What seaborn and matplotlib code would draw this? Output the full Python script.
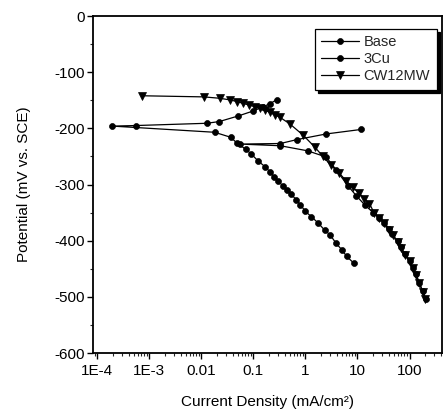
import numpy as np
import pandas as pd
import matplotlib
matplotlib.use("Agg")
import matplotlib.pyplot as plt
import seaborn as sns
from matplotlib.ticker import FixedLocator, FixedFormatter, LogLocator, MultipleLocator, NullFormatter

# Polarization data: current density (mA/cm^2) and potential (mV vs. SCE)
base_current = [0.28, 0.21, 0.15, 0.10, 0.051, 0.022, 0.0126, 5.6e-4, 1.95e-4,
                0.018, 0.037, 0.048, 0.071, 0.092, 0.123, 0.166, 0.206, 0.246,
                0.297, 0.371, 0.443, 0.537, 0.67, 0.80, 1.0, 1.29, 1.73, 2.33,
                3.0, 3.9, 5.1, 6.2, 8.5]
base_potential = [-149, -156, -162, -169, -178, -188, -191, -195, -196,
                  -207, -216, -226, -237, -246, -258, -268, -277, -286,
                  -293, -303, -310, -317, -328, -336, -348, -357, -368, -381,
                  -390, -405, -417, -428, -440]

cu3_current = [205, 178, 155, 133, 115, 100, 83, 68, 59, 47, 41, 33, 26, 20,
               14, 9.5, 6.5, 3.9, 2.5, 1.1, 0.33, 0.055, 0.33, 0.69, 2.5, 11.7]
cu3_potential = [-504, -490, -475, -460, -448, -436, -424, -412, -401, -389,
                 -380, -368, -359, -350, -337, -320, -302, -274, -251, -240,
                 -231, -228, -227, -220, -210, -202]

cw_current = [7.2e-4, 0.0112, 0.0227, 0.0363, 0.0495, 0.063, 0.083, 0.107,
              0.133, 0.166, 0.206, 0.257, 0.32, 0.5, 0.9, 1.5, 2.17, 3.1, 4.5,
              6.0, 8.1, 10.6, 13.6, 17, 21, 26.4, 32.9, 41, 47.5, 59, 68.5, 83,
              100, 115, 133, 155, 178, 200]
cw_potential = [-142, -144, -146.5, -149.5, -152.5, -155.5, -158.5, -161.5,
                -164.5, -167.5, -171.5, -176, -180, -192, -212, -233, -250,
                -266, -280, -293, -305, -315, -325, -334, -351, -360, -369,
                -381, -390, -402, -413, -425, -437, -449, -461, -476, -491,
                -503]

series_names = ["Base", "3Cu", "CW12MW"]
x_ticks = [1e-4, 1e-3, 1e-2, 1e-1, 1, 10, 100]
x_tick_labels = ["1E-4", "1E-3", "0.01", "0.1", "1", "10", "100"]
y_ticks = [0, -100, -200, -300, -400, -500, -600]

sns.set_theme(style="ticks")
plt.rcParams["font.family"] = ["Liberation Sans", "DejaVu Sans"]
plt.rcParams["axes.unicode_minus"] = False

fig = plt.figure(figsize=(4.46, 4.19), dpi=100)
ax = fig.add_axes([0.2085, 0.1575, 0.7825, 0.8043])

curves = [
    (series_names[0], base_current, base_potential, "o", 4.3),
    (series_names[1], cu3_current, cu3_potential, "o", 4.3),
    (series_names[2], cw_current, cw_potential, "v", 5.2),
]
for name, cur, pot, mk, ms in curves:
    df = pd.DataFrame({"current": cur, "potential": pot})
    sns.lineplot(data=df, x="current", y="potential", ax=ax, sort=False,
                 estimator=None, color="black", linewidth=0.9, marker=mk,
                 markersize=ms, markeredgecolor="black", markerfacecolor="black",
                 markeredgewidth=0.5, label=name)

ax.set_xscale("log")
ax.set_xlim(8.3e-5, 420)
ax.set_ylim(-600, 0)

ax.xaxis.set_major_locator(FixedLocator(x_ticks))
ax.xaxis.set_major_formatter(FixedFormatter(x_tick_labels))
ax.xaxis.set_minor_locator(LogLocator(base=10, subs=np.arange(2, 10), numticks=20))
ax.xaxis.set_minor_formatter(NullFormatter())
ax.yaxis.set_major_locator(FixedLocator(y_ticks))
ax.yaxis.set_minor_locator(MultipleLocator(50))

ax.tick_params(axis="both", which="major", direction="out", length=4,
               width=1.0, labelsize=11, colors="black")
ax.tick_params(axis="x", which="major", pad=4)
ax.tick_params(axis="y", which="major", pad=2)
ax.tick_params(axis="both", which="minor", direction="out", length=2, width=0.8)

for side in ["left", "bottom", "top", "right"]:
    ax.spines[side].set_visible(True)
    ax.spines[side].set_color("black")
    ax.spines[side].set_linewidth(1.3)

ax.set_xlabel("Current Density (mA/cm²)", fontsize=11, color="black", labelpad=12)
ax.set_ylabel("Potential (mV vs. SCE)", fontsize=11, color="black", labelpad=17)

leg = ax.legend(loc="upper right", bbox_to_anchor=(0.985, 0.962),
                borderaxespad=0, frameon=True, fancybox=False,
                shadow={"ox": 2, "oy": -2, "facecolor": "black",
                        "edgecolor": "black", "alpha": 1},
                fontsize=10.5, handlelength=2.6, handletextpad=0.3,
                labelspacing=0.2, borderpad=0.45)
leg.get_frame().set_edgecolor("black")
leg.get_frame().set_linewidth(0.9)
leg.get_frame().set_facecolor("white")

fig.savefig("out.png", dpi=100)
